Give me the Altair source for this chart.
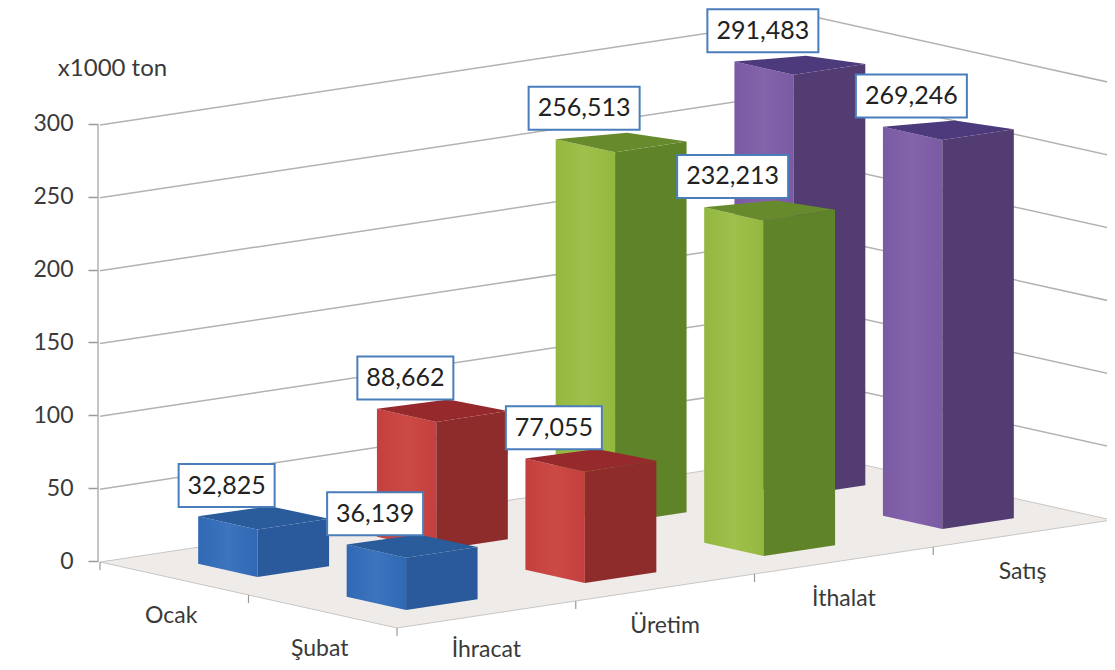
import altair as alt
import pandas as pd

# ---- data (thousand tons) ----
categories = ["İhracat", "Üretim", "İthalat", "Satış"]
depth_names = ["Şubat", "Ocak"]          # front row first
subat = [36.139, 77.055, 232.213, 269.246]
ocak = [32.825, 88.662, 256.513, 291.483]
y_ticks = [0, 50, 100, 150, 200, 250, 300]

# ---- styling ----
palette = [
    {"light": "#3168b4", "mid": "#3d74be", "side": "#2a5a9b", "top": "#2a5b9a"},
    {"light": "#c43f3d", "mid": "#cc4a46", "side": "#8e2c2b", "top": "#96292b"},
    {"light": "#93b83e", "mid": "#9fc04c", "side": "#5f8329", "top": "#678b2c"},
    {"light": "#7a5aa3", "mid": "#8364ab", "side": "#523c72", "top": "#4d3a7c"},
]
FONT = "Lato"
GRID = "#b2b2b2"

# ---- oblique projection of the 3D scene ----
ORIGIN = (397.0, 628.0)
U = (178.75, -27.0)      # one category along the front edge
V = (-148.5, -33.0)      # one row towards the back
K = 1.4567               # px per thousand tons
ZERO_PY = 561.0
HALF = 0.2               # half width of a bar, in units of a cell
FORESHORTEN = 0.992      # bar height relative to the wall scale (perspective)
BACK_DROP = 0.012        # the far corner of a bar's top sinks with height
BOTTOM_PY = 649.5        # lowest centre a category label may take


def project(u, v, h=0.0):
    """Scene position -> (x in page px, y in thousand tons on the y scale)."""
    px = ORIGIN[0] + u * U[0] + v * V[0]
    py = ORIGIN[1] + u * U[1] + v * V[1]
    return px, (ZERO_PY - py) / K + h


def poly(points):
    rows = [dict(x=p[0], y=p[1], i=n) for n, p in enumerate(points + points[:1])]
    return pd.DataFrame(rows)


x_scale = alt.Scale(domain=[8, 1107], nice=False, zero=False)
y_scale = alt.Scale(domain=[(ZERO_PY - 662) / K, (ZERO_PY - 8) / K], nice=False, zero=False)
x_enc = alt.X("x:Q", scale=x_scale, axis=None)
y_axis = alt.Axis(
    values=y_ticks, grid=False, domain=False, offset=-90, tickSize=10, tickWidth=1.5,
    tickColor="#9a9a9a", labelFont=FONT, labelFontSize=23, labelColor="#3a3a3a",
    labelPadding=15, title="x1000 ton", titleFont=FONT, titleFontSize=24,
    titleFontWeight="normal", titleColor="#3a3a3a", titleAngle=0, titleX=14, titleY=60,
    titleAlign="center", titleBaseline="middle",
)
y_enc = alt.Y("y:Q", scale=y_scale, axis=y_axis)


def polygon_layer(points, fill, stroke=None):
    kw = dict(fill=fill, filled=True, strokeWidth=0.6, stroke=stroke or "transparent")
    return alt.Chart(poly(points)).mark_line(**kw).encode(x=x_enc, y=y_enc, order="i:Q")


def segments_layer(rows, color, width):
    return (
        alt.Chart(pd.DataFrame(rows))
        .mark_line(color=color, strokeWidth=width)
        .encode(x=x_enc, y=y_enc, order="i:Q", detail="g:N")
    )


layers = []

# floor
n_cat, n_depth = len(categories), len(depth_names)
floor = [project(0, n_depth), project(0, 0), project(n_cat, 0), project(n_cat, n_depth)]
layers.append(polygon_layer(floor, "#efebe8", "#a8a8a8"))

# walls: gridlines
grid_rows = []
for t in y_ticks[1:]:
    for n, (u, v) in enumerate([(0, n_depth), (n_cat, n_depth), (n_cat, 0)]):
        px, val = project(u, v, t)
        grid_rows.append(dict(x=px, y=val, i=n, g=str(t)))
# y axis line
for n, t in enumerate([0, y_ticks[-1]]):
    px, val = project(0, n_depth, t)
    grid_rows.append(dict(x=px - 2, y=val, i=n, g="axis"))
layers.append(segments_layer(grid_rows, GRID, 1.5))

# floor ticks
tick_rows = []
for c in range(n_cat + 1):
    px, val = project(c, 0)
    tick_rows += [dict(x=px, y=val, i=0, g=f"c{c}"), dict(x=px, y=val - 8 / K, i=1, g=f"c{c}")]
for d in range(1, n_depth + 1):
    px, val = project(0, d)
    tick_rows += [dict(x=px, y=val, i=0, g=f"d{d}"), dict(x=px, y=val - 8 / K, i=1, g=f"d{d}")]
layers.append(segments_layer(tick_rows, "#9a9a9a", 1.2))

# bars, back row first
labels = []
for d, values in [(1, ocak), (0, subat)]:
    for c, value in enumerate(values):
        u0, u1 = c + 0.5 - HALF, c + 0.5 + HALF
        v0, v1 = d + 0.5 - HALF, d + 0.5 + HALF
        L, F, R = (u0, v1), (u0, v0), (u1, v0)
        B = (u1, v1)
        col = palette[c]
        h = value * FORESHORTEN
        grad = alt.LinearGradient(
            gradient="linear", x1=0, x2=1, y1=0, y2=0,
            stops=[
                alt.GradientStop(offset=0, color=col["light"]),
                alt.GradientStop(offset=0.5, color=col["mid"]),
                alt.GradientStop(offset=1, color=col["light"]),
            ],
        )
        layers.append(polygon_layer(
            [project(*L), project(*F), project(*F, h), project(*L, h)], grad))
        layers.append(polygon_layer(
            [project(*F), project(*R), project(*R, h), project(*F, h)], col["side"]))
        layers.append(polygon_layer(
            [project(*L, h), project(*F, h), project(*R, h), project(*B, h * (1 - BACK_DROP))],
            col["top"]))
        px, val = project(c + 0.5, d + 0.5, h)
        text = f"{value:.3f}".replace(".", ",")
        half_w = 48 if len(text) == 6 else 55.5
        labels.append(dict(
            x=px - 37, xa=px - 37 - half_w, xb=px - 37 + half_w,
            y=val + 32 / K, ya=val + (32 - 21.5) / K, yb=val + (32 + 21.5) / K, t=text,
        ))

labels_df = pd.DataFrame(labels)
layers.append(
    alt.Chart(labels_df)
    .mark_rect(fill="white", stroke="#4a7ebb", strokeWidth=2)
    .encode(x=alt.X("xa:Q", scale=x_scale, axis=None), x2="xb:Q",
            y=alt.Y("ya:Q", scale=y_scale, axis=y_axis), y2="yb:Q")
)
layers.append(
    alt.Chart(labels_df)
    .mark_text(font=FONT, fontSize=25, color="#222222", baseline="middle", align="center")
    .encode(x=x_enc, y=y_enc, text="t:N")
)

# category labels
lowest = (ZERO_PY - BOTTOM_PY) / K
cat_rows = []
for c, name in enumerate(categories):
    px, val = project(c + 0.5, 0)
    cat_rows.append(dict(x=px, y=max(val - 38 / K, lowest), t=name))
for d, name in enumerate(depth_names):
    px, val = project(0, d + 0.5)
    cat_rows.append(dict(x=px - 3, y=max(val - 37 / K, lowest), t=name))
layers.append(
    alt.Chart(pd.DataFrame(cat_rows))
    .mark_text(font=FONT, fontSize=23, color="#3a3a3a", baseline="middle", align="center")
    .encode(x=x_enc, y=y_enc, text="t:N")
)

chart = (
    alt.layer(*layers)
    .properties(width=1099, height=654, padding=0, background="white",
                autosize=alt.AutoSizeParams(type="none"))
    .configure_view(stroke=None)
)
chart.save("out.html", embed_options={"renderer": "svg", "actions": False})
